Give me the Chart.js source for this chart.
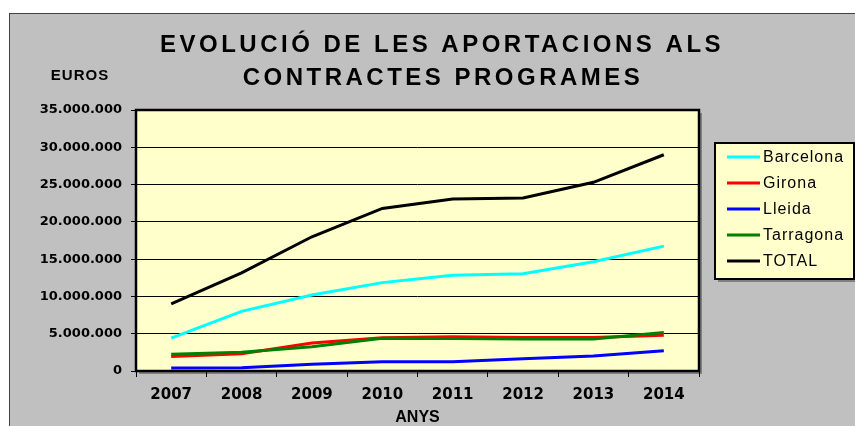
<!DOCTYPE html>
<html>
<head>
<meta charset="utf-8">
<title>Aportacions contractes programes</title>
<script src="https://cdn.jsdelivr.net/npm/chart.js@4/dist/chart.umd.min.js"></script>
<style>
    html, body { margin: 0; padding: 0; background: #fff; }
    canvas { display: block; }
</style>
</head>
<body>
<canvas id="myChart" width="855" height="426"></canvas>
<script>
const years = ['2007', '2008', '2009', '2010', '2011', '2012', '2013', '2014'];

// euros per year
const barcelona = [4400000, 8000000, 10200000, 11850000, 12850000, 13050000, 14650000, 16750000];
const girona    = [1950000, 2300000, 3750000, 4450000, 4600000, 4500000, 4500000, 4800000];
const lleida    = [400000, 450000, 900000, 1250000, 1250000, 1650000, 2000000, 2700000];
const tarragona = [2250000, 2500000, 3250000, 4400000, 4350000, 4300000, 4300000, 5150000];
const total     = [9000000, 13150000, 18000000, 21800000, 23050000, 23200000, 25300000, 29000000];

const titleLines = ['EVOLUCIÓ DE LES APORTACIONS ALS', 'CONTRACTES PROGRAMES'];

/*
    35000000 -> "35.000.000"
*/
function formatEuros(n) {
    return String(n).replace(/\B(?=(\d{3})+(?!\d))/g, '.');
}

const series = [
    { label: 'Barcelona', data: barcelona, color: '#00ffff' },
    { label: 'Girona', data: girona, color: '#ff0000' },
    { label: 'Lleida', data: lleida, color: '#0000ff' },
    { label: 'Tarragona', data: tarragona, color: '#008000' },
    { label: 'TOTAL', data: total, color: '#000000' }
];

// gray background, yellow plot area, frame, titles and the legend box
const frame = {
    id: 'frame',
    beforeDraw(chart) {
        const c = chart.ctx;
        const a = chart.chartArea;
        c.save();
        c.fillStyle = '#ffffff';
        c.fillRect(0, 0, chart.width, chart.height);
        c.fillStyle = '#c0c0c0';
        c.fillRect(9, 13, chart.width, chart.height);
        c.strokeStyle = '#404040';
        c.lineWidth = 1;
        c.strokeRect(9.5, 13.5, chart.width + 10, chart.height + 10);

        c.fillStyle = '#808080';
        c.fillRect(a.left + 3, a.top + 3, a.width, a.height);
        c.fillStyle = '#ffffcc';
        c.fillRect(a.left, a.top, a.width, a.height);
        c.restore();
    },
    afterDraw(chart) {
        const c = chart.ctx;
        const a = chart.chartArea;
        c.save();
        c.strokeStyle = '#000';
        c.lineWidth = 2.5;
        c.strokeRect(a.left, a.top, a.width, a.height);

        c.fillStyle = '#000';
        c.textAlign = 'center';
        c.textBaseline = 'middle';
        c.font = 'bold 24px "Liberation Sans", Arial, sans-serif';
        c.letterSpacing = '3.5px';
        c.fillText(titleLines[0], 442, 45);
        c.fillText(titleLines[1], 443, 78);

        c.font = 'bold 15px "Liberation Sans", Arial, sans-serif';
        c.letterSpacing = '1px';
        c.fillText('EUROS', 80, 76);

        // legend
        const lx = 715, ly = 143, lw = 139, lh = 136;
        c.fillStyle = '#808080';
        c.fillRect(lx + 3, ly + 3, lw, lh);
        c.fillStyle = '#ffffcc';
        c.fillRect(lx, ly, lw, lh);
        c.strokeStyle = '#000';
        c.lineWidth = 2;
        c.strokeRect(lx, ly, lw, lh);

        c.textAlign = 'left';
        c.font = '16px "Liberation Sans", Arial, sans-serif';
        chart.data.datasets.forEach((d, i) => {
            const y = 157 + i * 26;
            c.strokeStyle = d.borderColor;
            c.lineWidth = 3;
            c.beginPath();
            c.moveTo(727, y);
            c.lineTo(760, y);
            c.stroke();
            c.fillStyle = '#000';
            c.fillText(d.label, 763, y + 1);
        });
        c.restore();
    }
};

Chart.defaults.color = '#000';

const myChart = new Chart(document.querySelector('#myChart'), {
    type: 'line',
    data: {
        labels: years,
        datasets: series.map((s, i) => ({
            label: s.label,
            data: s.data,
            borderColor: s.color,
            backgroundColor: s.color,
            // later series drawn on top
            order: series.length - i
        }))
    },
    options: {
        responsive: false,
        animation: false,
        layout: { padding: { left: 0, top: 110, right: 156, bottom: 0 } },
        elements: {
            point: { radius: 0 },
            line: { tension: 0, borderWidth: 3 }
        },
        plugins: {
            legend: { display: false },
            tooltip: { enabled: false },
            title: { display: false }
        },
        scales: {
            x: {
                offset: true,
                grid: { offset: true, drawOnChartArea: false, color: '#000', tickLength: 6 },
                border: { display: false },
                ticks: {
                    color: '#000',
                    padding: 9,
                    maxRotation: 0,
                    font: { family: '"DejaVu Sans", sans-serif', weight: 'bold', size: 15 }
                },
                title: {
                    display: true,
                    text: 'ANYS',
                    color: '#000',
                    padding: 0,
                    font: { family: '"Liberation Sans", Arial, sans-serif', weight: 'bold', size: 16, lineHeight: 1 }
                },
                afterFit(scale) { scale.height = 55; }
            },
            y: {
                min: 0,
                max: 35000000,
                grid: { color: '#000', lineWidth: 1, tickLength: 5 },
                border: { display: false },
                ticks: {
                    stepSize: 5000000,
                    padding: 9,
                    color: '#000',
                    font: { family: '"DejaVu Sans", sans-serif', weight: 'bold', size: 13 },
                    callback: (v) => formatEuros(v)
                },
                afterFit(scale) { scale.width = 136; }
            }
        }
    },
    plugins: [frame]
});
</script>
</body>
</html>
